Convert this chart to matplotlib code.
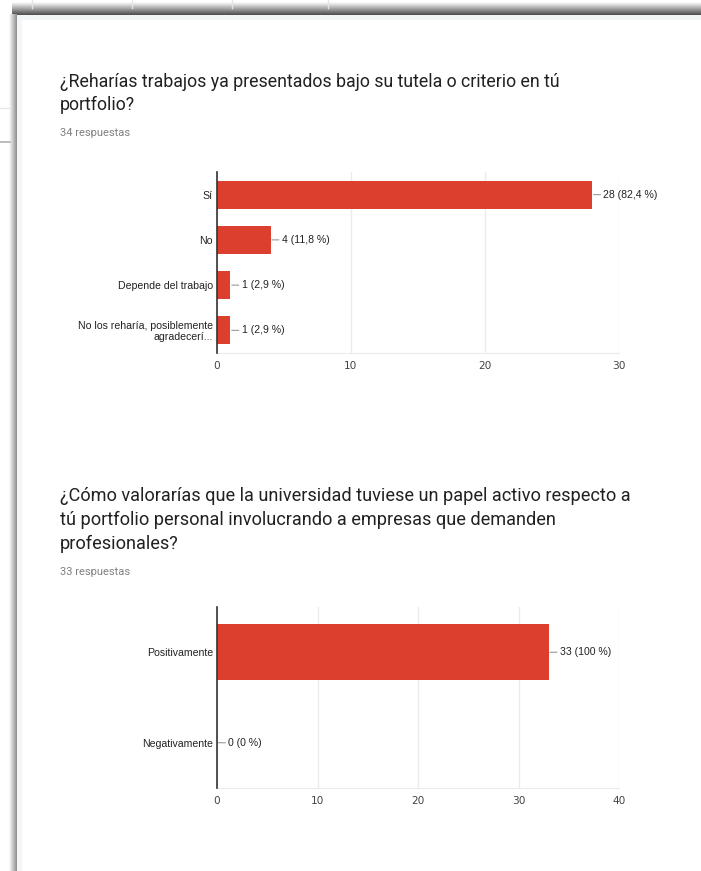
import numpy as np
import matplotlib.pyplot as plt

W, H = 701, 871

# datos
q1_title = ["¿Reharías trabajos ya presentados bajo su tutela o criterio en tú",
            "portfolio?"]
q1_resp = "34 respuestas"
q1_cats = ["Sí", "No", "Depende del trabajo", "No los reharía, posiblemente\nagradecerí..."]
q1_vals = [28, 4, 1, 1]
q1_pct = ["82,4 %", "11,8 %", "2,9 %", "2,9 %"]
q1_ticks = [0, 10, 20, 30]

q2_title = ["¿Cómo valorarías que la universidad tuviese un papel activo respecto a",
            "tú portfolio personal involucrando a empresas que demanden",
            "profesionales?"]
q2_resp = "33 respuestas"
q2_cats = ["Positivamente", "Negativamente"]
q2_vals = [33, 0]
q2_pct = ["100 %", "0 %"]
q2_ticks = [0, 10, 20, 30, 40]

red = '#dc3f2e'

fig = plt.figure(figsize=(W / 100, H / 100), dpi=100)
fig.patch.set_facecolor('white')

# fondo (captura de pantalla, tarjeta con sombra)
bg = fig.add_axes([0, 0, 1, 1])
bg.set_xlim(0, W)
bg.set_ylim(H, 0)
bg.axis('off')
grad_v = np.linspace(1, 0.3, 50).reshape(-1, 1)
bg.imshow(grad_v, cmap='gray', vmin=0, vmax=1, extent=[12, W, 15, 2],
          aspect='auto', interpolation='bilinear', zorder=1)
grad_h = np.linspace(1, 0.55, 50).reshape(1, -1)
bg.imshow(grad_h, cmap='gray', vmin=0, vmax=1, extent=[9, 17, H, 15],
          aspect='auto', interpolation='bilinear', zorder=1)
for x in [32, 132, 232, 328]:
    bg.plot([x, x], [0, 8], color='#e6e6e6', lw=1, zorder=2)
bg.plot([0, 10], [108, 108], color='#e8e8e8', lw=1)
bg.plot([0, 10], [142, 142], color='#b0b0b0', lw=1.2)
bg.add_patch(plt.Rectangle((17, 15), W - 17, H - 15, facecolor='#f3f6f6', lw=0, zorder=2))
bg.add_patch(plt.Rectangle((22, 20), W - 22, H - 20, facecolor='white', lw=0, zorder=2))
bg.set_xlim(0, W)
bg.set_ylim(H, 0)

resp_font = dict(family='Roboto', color='#808080', fontsize=8, zorder=3)
for i, line in enumerate(q1_title):
    bg.text(60, 82 + 23 * i, line, va='center', ha='left', family='Roboto',
            color='#212121', fontsize=12.8, zorder=3)
bg.text(60, 133, q1_resp, va='center', ha='left', **resp_font)
for i, line in enumerate(q2_title):
    bg.text(60, 496 + 24 * i, line, va='center', ha='left', family='Roboto',
            color='#212121', fontsize=13.1, zorder=3)
bg.text(60, 572, q2_resp, va='center', ha='left', **resp_font)


def bar_chart(box, cats, vals, pct, ticks):
    x0, y0, x1, y1 = box
    ax = fig.add_axes([x0 / W, 1 - y1 / H, (x1 - x0) / W, (y1 - y0) / H])
    ax.patch.set_alpha(0)
    y = np.arange(len(cats))
    ax.barh(y, vals, height=0.62, color=red, zorder=3)
    ax.set_ylim(len(cats) - 0.5, -0.5)
    ax.set_xlim(ticks[0], ticks[-1])
    ax.set_xticks(ticks)
    ax.set_yticks(y)
    ax.set_yticklabels(cats, family='Liberation Sans', fontsize=7.6, color='#222222',
                       linespacing=1.1)
    ax.tick_params(axis='both', length=0, pad=3)
    ax.tick_params(axis='x', labelsize=7.6, labelcolor='#444444', pad=6)
    ax.grid(axis='x', color='#ebebeb', lw=1, zorder=0)
    for s in ['top', 'right']:
        ax.spines[s].set_visible(False)
    ax.spines['bottom'].set_color('#ebebeb')
    ax.spines['left'].set_color('#333333')
    ax.spines['left'].set_linewidth(1.2)
    ax.spines['left'].set_zorder(4)
    for yi, v, p in zip(y, vals, pct):
        ax.annotate(f"{v} ({p})", xy=(v, yi), xytext=(8, 0), textcoords='offset points',
                    ha='left', va='center', fontsize=7.6, family='Liberation Sans',
                    color='#222222',
                    arrowprops=dict(arrowstyle='-', color='#999999', lw=0.8,
                                    shrinkA=0, shrinkB=1))
    return ax


bar_chart((217, 172, 619, 353), q1_cats, q1_vals, q1_pct, q1_ticks)
bar_chart((217, 607, 619, 788), q2_cats, q2_vals, q2_pct, q2_ticks)

fig.savefig('out.png', dpi=100, facecolor=fig.get_facecolor())
